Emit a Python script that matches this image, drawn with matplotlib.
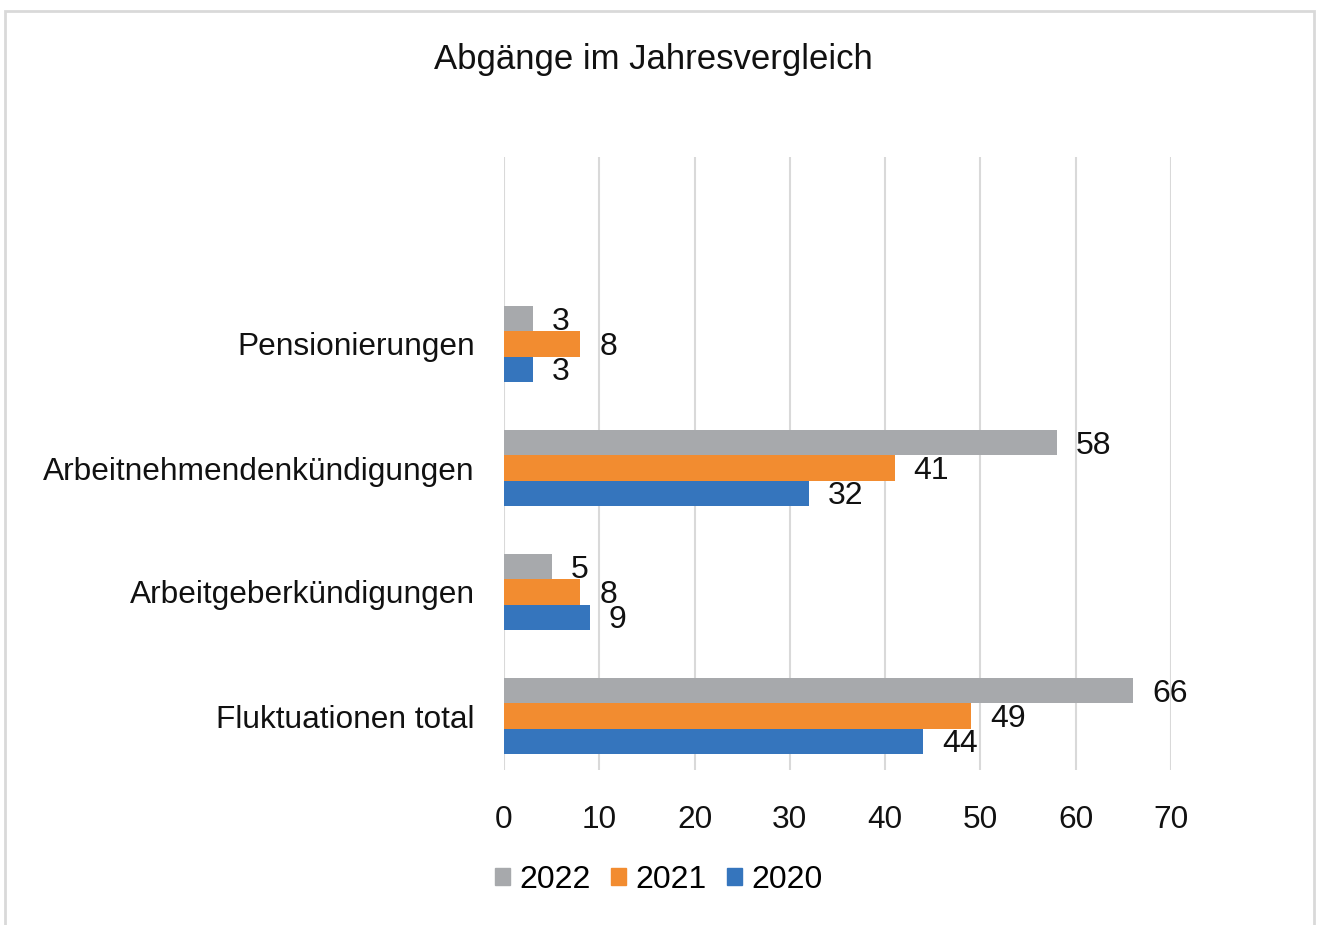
import numpy as np
import matplotlib
matplotlib.use('Agg')
import matplotlib.pyplot as plt
from matplotlib.patches import Rectangle, Patch

plt.rcParams['font.family'] = ['Liberation Sans', 'DejaVu Sans']

categories = ['Fluktuationen total', 'Arbeitgeberkündigungen',
              'Arbeitnehmendenkündigungen', 'Pensionierungen']
years = ['2022', '2021', '2020']
values_2022 = [66, 5, 58, 3]
values_2021 = [49, 8, 41, 8]
values_2020 = [44, 9, 32, 3]
colors = ['#a7a9ac', '#f28c30', '#3575bd']

fig = plt.figure(figsize=(13.2, 9.25), dpi=100)
ax = fig.add_axes([504 / 1320, 1 - 770 / 925, 667 / 1320, 613 / 925])

y = np.arange(len(categories))
h = 0.205
series = [values_2022, values_2021, values_2020]
offsets = [h, 0, -h]
for vals, off, col, yr in zip(series, offsets, colors, years):
    bars = ax.barh(y + off, vals, height=h, color=col, label=yr, zorder=3)
    for b, v in zip(bars, vals):
        ax.annotate(str(v), (v, b.get_y() + b.get_height() / 2),
                    xytext=(19, -3), textcoords='offset pixels',
                    va='center', ha='left', fontsize=23, color='#111111')

ax.set_xlim(0, 70)
ax.set_ylim(-54 / 124, 3 + 187 / 124)
ax.set_xticks(range(0, 71, 10))
ax.set_yticks(y)
ax.set_yticklabels(categories)
ax.tick_params(axis='both', length=0, labelsize=22.8, colors='#111111')
ax.tick_params(axis='y', pad=21)
ax.tick_params(axis='x', pad=25)
ax.grid(axis='x', color='#d9d9d9', lw=1.5, zorder=0)
for s in ax.spines.values():
    s.set_visible(False)

fig.text(653 / 1320, 1 - 60 / 925, 'Abgänge im Jahresvergleich',
         ha='center', va='center', fontsize=25, color='#111111')

handles = [Patch(color=c) for c in colors]
fig.legend(handles, years, loc='center', bbox_to_anchor=(659 / 1320, 1 - 880 / 925),
           ncol=3, frameon=False, fontsize=23, handlelength=0.45, handleheight=0.45,
           handletextpad=0.3, columnspacing=0.65)

fig.patches.append(Rectangle((5 / 1320, -0.05), 1309 / 1320, 1 - 11 / 925 + 0.05,
                             transform=fig.transFigure, fill=False,
                             edgecolor='#d9d9d9', lw=2))

fig.savefig('out.png', dpi=100)
